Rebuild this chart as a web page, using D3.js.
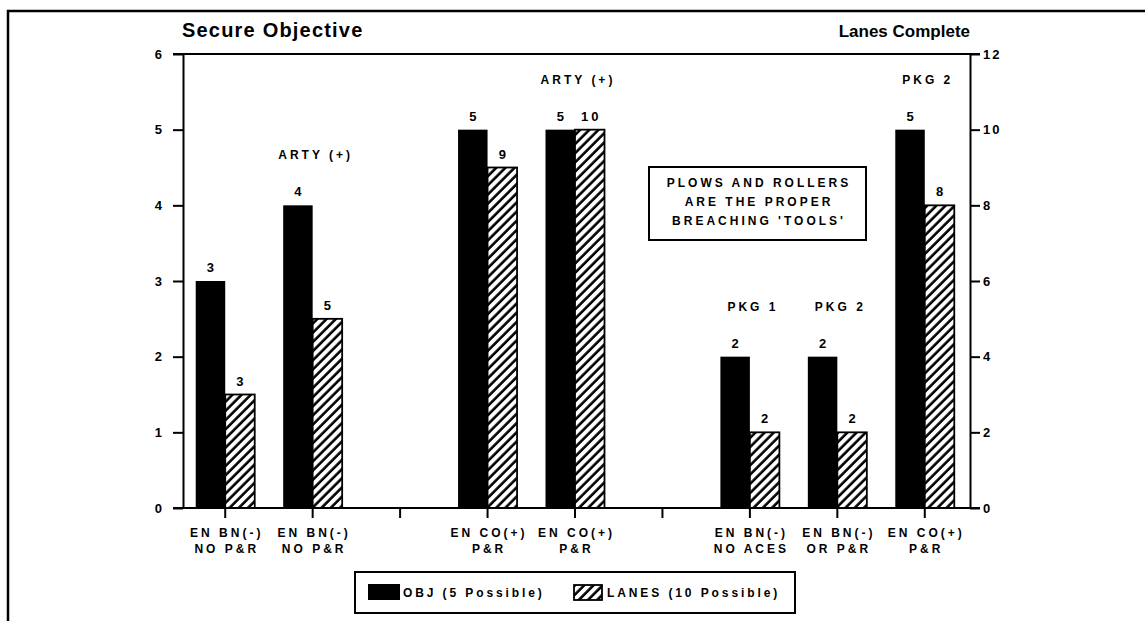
<!DOCTYPE html>
<html lang="en">

<head>
    <meta charset="UTF-8">
    <title>Secure Objective / Lanes Complete</title>
    <script src="https://d3js.org/d3.v7.min.js"></script>
    <style>
        body {
            margin: 0;
            overflow: hidden;
            background: white;
            font-family: "Liberation Sans", Arial, Helvetica, sans-serif;
        }

        #vis {
            display: block;
        }

        #vis text {
            font-weight: bold;
            fill: black;
        }
    </style>
</head>

<body>
    <svg id="vis"></svg>
    <script>
        const width = 1145;
        const height = 621;

        // one slot per x position; empty strings are the gaps between groups
        const slots = ["a", "b", "gap1", "c", "d", "gap2", "e", "f", "g"];
        const labelLine1 = ["EN BN(-)", "EN BN(-)", "", "EN CO(+)", "EN CO(+)", "", "EN BN(-)", "EN BN(-)", "EN CO(+)"];
        const labelLine2 = ["NO P&R", "NO P&R", "", "P&R", "P&R", "", "NO ACES", "OR P&R", "P&R"];
        const objValues = [3, 4, null, 5, 5, null, 2, 2, 5];
        const laneValues = [3, 5, null, 9, 10, null, 2, 2, 8];
        const notes = ["", "ARTY (+)", "", "", "ARTY (+)", "", "PKG 1", "PKG 2", "PKG 2"];

        const leftTicks = [0, 1, 2, 3, 4, 5, 6];
        const rightTicks = [0, 2, 4, 6, 8, 10, 12];
        const boxLines = ["PLOWS AND ROLLERS", "ARE THE PROPER", "BREACHING 'TOOLS'"];
        const legendLabels = ["OBJ (5 Possible)", "LANES (10 Possible)"];

        const svg = d3.select("#vis").attr("width", width).attr("height", height);

        // hatch pattern for the lanes bars
        const defs = svg.append("defs");
        defs.append("pattern")
            .attr("id", "hatch")
            .attr("patternUnits", "userSpaceOnUse")
            .attr("width", 6.5)
            .attr("height", 6.5)
            .attr("patternTransform", "rotate(45)")
            .append("line")
            .attr("x1", 1.5).attr("y1", 0)
            .attr("x2", 1.5).attr("y2", 6.5)
            .attr("stroke", "black")
            .attr("stroke-width", 2.6);

        // outer frame (left and top edges only)
        svg.append("path")
            .attr("d", "M8,621 V11 H1145")
            .attr("fill", "none")
            .attr("stroke", "black")
            .attr("stroke-width", 2.5);

        const plot = { left: 183, right: 970, top: 54, bottom: 508 };

        const x = d3.scaleBand()
            .domain(slots)
            .range([plot.left - 1.5, plot.right - 1.5]);

        const yL = d3.scaleLinear().domain([0, 6]).range([plot.bottom, plot.top]);
        const yR = d3.scaleLinear().domain([0, 12]).range([plot.bottom, plot.top]);

        const barW = 29.5;
        const cx = i => x(slots[i]) + x.bandwidth() / 2;

        const data = slots.map((s, i) => ({
            i, obj: objValues[i], lanes: laneValues[i], note: notes[i],
            l1: labelLine1[i], l2: labelLine2[i]
        }));
        const bars = data.filter(d => d.obj !== null);

        // axes
        const leftAxis = svg.append("g")
            .attr("transform", `translate(${plot.left},0)`)
            .call(d3.axisLeft(yL).tickValues(leftTicks).tickFormat(d3.format("d"))
                .tickSize(10).tickSizeOuter(0).tickPadding(9));
        const rightAxis = svg.append("g")
            .attr("transform", `translate(${plot.right},0)`)
            .call(d3.axisRight(yR).tickValues(rightTicks).tickFormat(d3.format("d"))
                .tickSize(10).tickSizeOuter(0).tickPadding(3));
        const bottomAxis = svg.append("g")
            .attr("transform", `translate(0,${plot.bottom})`)
            .call(d3.axisBottom(x).tickSize(10).tickFormat(""));
        bottomAxis.select(".domain").remove();

        [leftAxis, rightAxis, bottomAxis].forEach(g => {
            g.selectAll("path, line").attr("stroke", "black").attr("stroke-width", 2);
            g.selectAll("text")
                .attr("font-family", "'Liberation Sans', Arial, sans-serif")
                .attr("font-size", 13)
                .attr("letter-spacing", 2);
        });

        // top and bottom rules of the plot area
        svg.append("line")
            .attr("x1", plot.left - 10).attr("x2", plot.right + 10)
            .attr("y1", plot.top).attr("y2", plot.top)
            .attr("stroke", "black").attr("stroke-width", 2);
        svg.append("line")
            .attr("x1", plot.left - 10).attr("x2", plot.right + 10)
            .attr("y1", plot.bottom).attr("y2", plot.bottom)
            .attr("stroke", "black").attr("stroke-width", 2);

        // bars
        const g = svg.append("g");
        g.selectAll("rect.obj")
            .data(bars)
            .join("rect")
            .attr("class", "obj")
            .attr("x", d => cx(d.i) - barW)
            .attr("y", d => yL(d.obj))
            .attr("width", barW)
            .attr("height", d => yL(0) - yL(d.obj))
            .attr("fill", "black");

        g.selectAll("rect.lanes")
            .data(bars)
            .join("rect")
            .attr("class", "lanes")
            .attr("x", d => cx(d.i))
            .attr("y", d => yR(d.lanes))
            .attr("width", barW)
            .attr("height", d => yR(0) - yR(d.lanes))
            .attr("fill", "url(#hatch)")
            .attr("stroke", "black")
            .attr("stroke-width", 1.8);

        const small = sel => sel
            .attr("font-size", 12)
            .attr("letter-spacing", 3)
            .attr("text-anchor", "middle");

        // value labels
        g.selectAll("text.objv")
            .data(bars)
            .join("text")
            .attr("class", "objv")
            .call(small)
            .attr("font-size", 13)
            .attr("x", d => cx(d.i) - barW / 2 + 1.5)
            .attr("y", d => yL(d.obj) - 9)
            .text(d => d.obj);

        g.selectAll("text.lanev")
            .data(bars)
            .join("text")
            .attr("class", "lanev")
            .call(small)
            .attr("font-size", 13)
            .attr("x", d => cx(d.i) + barW / 2 + 1.5)
            .attr("y", d => yR(d.lanes) - 9)
            .text(d => d.lanes);

        // group notes (ARTY / PKG)
        g.selectAll("text.note")
            .data(bars.filter(d => d.note))
            .join("text")
            .attr("class", "note")
            .call(small)
            .attr("x", d => cx(d.i) + 3)
            .attr("y", d => Math.min(yL(d.obj), yR(d.lanes)) - 46)
            .text(d => d.note);

        // category labels
        const cat = svg.append("g");
        cat.selectAll("text.l1")
            .data(bars)
            .join("text")
            .attr("class", "l1")
            .call(small)
            .attr("x", d => cx(d.i) + 1.5)
            .attr("y", plot.bottom + 29)
            .text(d => d.l1);
        cat.selectAll("text.l2")
            .data(bars)
            .join("text")
            .attr("class", "l2")
            .call(small)
            .attr("x", d => cx(d.i) + 1.5)
            .attr("y", plot.bottom + 45)
            .text(d => d.l2);

        // axis titles
        svg.append("text")
            .attr("x", plot.left - 1)
            .attr("y", 37)
            .attr("font-size", 20)
            .attr("letter-spacing", 1.2)
            .text("Secure Objective");
        svg.append("text")
            .attr("x", plot.right)
            .attr("y", 37)
            .attr("font-size", 17)
            .attr("letter-spacing", 0)
            .attr("text-anchor", "end")
            .text("Lanes Complete");

        // annotation box
        const box = svg.append("g");
        box.append("rect")
            .attr("x", 649).attr("y", 167)
            .attr("width", 217).attr("height", 73)
            .attr("fill", "white")
            .attr("stroke", "black")
            .attr("stroke-width", 2);
        box.selectAll("text")
            .data(boxLines)
            .join("text")
            .call(small)
            .attr("x", 759)
            .attr("y", (d, i) => 187 + i * 19)
            .text(d => d);

        // legend
        const legend = svg.append("g");
        legend.append("rect")
            .attr("x", 355).attr("y", 572)
            .attr("width", 440).attr("height", 41)
            .attr("fill", "white")
            .attr("stroke", "black")
            .attr("stroke-width", 2);
        legend.append("rect")
            .attr("x", 368).attr("y", 584)
            .attr("width", 32).attr("height", 16)
            .attr("fill", "black");
        legend.append("text")
            .attr("x", 403).attr("y", 597)
            .attr("font-size", 12)
            .attr("letter-spacing", 2.9)
            .text(legendLabels[0]);
        legend.append("rect")
            .attr("x", 574).attr("y", 585)
            .attr("width", 28).attr("height", 15)
            .attr("fill", "url(#hatch)")
            .attr("stroke", "black")
            .attr("stroke-width", 1.8);
        legend.append("text")
            .attr("x", 607).attr("y", 597)
            .attr("font-size", 12)
            .attr("letter-spacing", 2.9)
            .text(legendLabels[1]);
    </script>
</body>

</html>
